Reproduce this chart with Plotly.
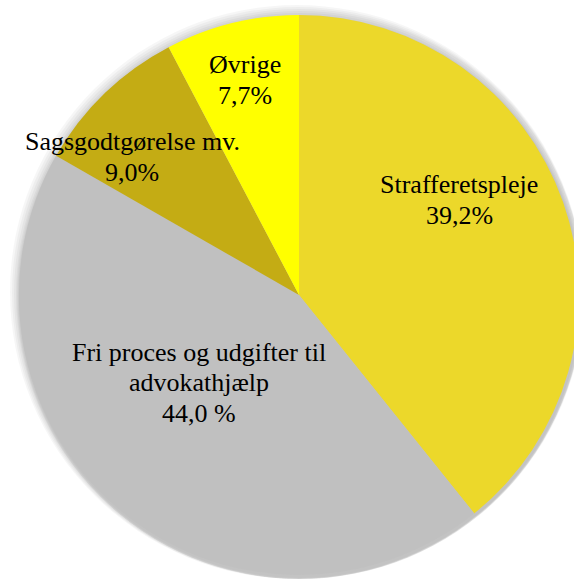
import plotly.graph_objects as go

labels = ["Strafferetspleje", "Fri proces og udgifter til<br>advokathjælp",
          "Sagsgodtgørelse mv.", "Øvrige"]
values = [39.2, 44.0, 9.0, 7.7]
value_text = ["39,2%", "44,0 %", "9,0%", "7,7%"]
colors = ["#ECD82A", "#C0C0C0", "#C4AC14", "#FFFF00"]

# figure is a little wider than the window so the pie is cut at the right edge
W, H = 584, 579
cx, cy, r = 299, 295, 280

# label block centres in pixels
label_pos = [(459, 200), (199, 383), (132, 157), (245, 80)]
line_step = 30.5


def dom(cx, cy, r):
    return dict(x=[max(0, (cx - r) / W), min(1, (cx + r) / W)],
                y=[max(0, 1 - (cy + r) / H), min(1, 1 - (cy - r) / H)])


fig = go.Figure()

# soft shadow around the pie
for k in range(7, 0, -1):
    rr = r + k
    scx = min(cx + 1, W - rr)
    scy = min(cy + 2, H - rr)
    fig.add_trace(go.Pie(
        values=[1], labels=["s"], sort=False, textinfo="none", hoverinfo="skip",
        marker=dict(colors=["rgba(0,0,0,0.035)"], line=dict(width=0)),
        domain=dom(scx, scy, rr), showlegend=False,
    ))

fig.add_trace(go.Pie(
    labels=labels, values=values, sort=False, direction="clockwise",
    rotation=0, marker=dict(colors=colors, line=dict(width=0)),
    textinfo="none", hoverinfo="label+percent",
    domain=dom(cx, cy, r), showlegend=False,
))

for lab, vt, (x, y) in zip(labels, value_text, label_pos):
    lines = lab.split("<br>") + [vt]
    y0 = y - (len(lines) - 1) * line_step / 2
    for i, txt in enumerate(lines):
        fig.add_annotation(x=x / W, y=1 - (y0 + i * line_step) / H,
                           xref="paper", yref="paper", showarrow=False,
                           xanchor="center", yanchor="middle",
                           text=txt, align="center",
                           font=dict(family="Liberation Serif", size=26, color="black"))

fig.update_layout(width=W, height=H, margin=dict(l=0, r=0, t=0, b=0),
                  paper_bgcolor="white", plot_bgcolor="white")
fig.write_html("out.html", config={"displayModeBar": False},
               post_script="document.body.style.margin='0';"
                           "document.body.style.overflow='hidden';")
